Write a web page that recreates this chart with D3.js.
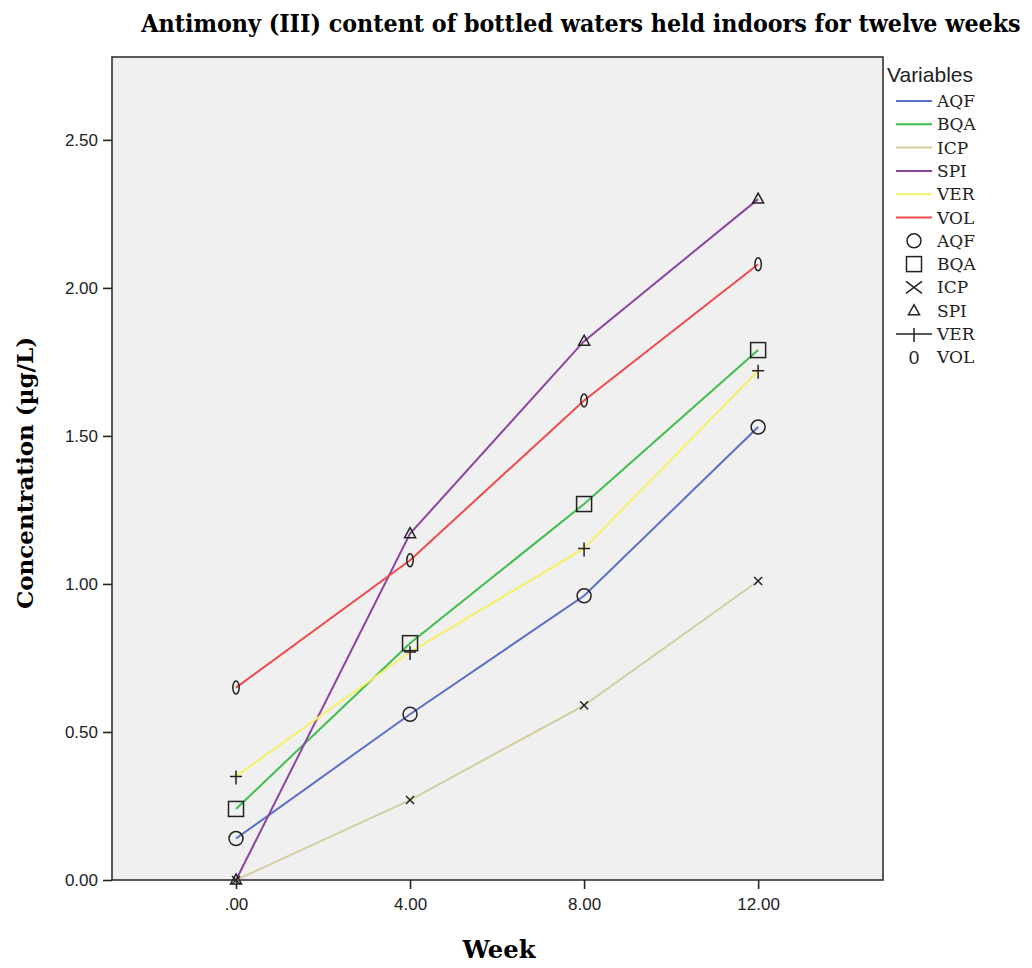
<!DOCTYPE html>
<html><head><meta charset="utf-8">
<script src="https://cdn.jsdelivr.net/npm/d3@7/dist/d3.min.js"></script>
<style>body{margin:0;background:#fff;} svg{display:block;}</style>
</head><body>
<svg id="c" width="1032" height="968"></svg>
<script>
const weeks = [0, 4, 8, 12];
const seriesNames = ["AQF", "BQA", "ICP", "SPI", "VER", "VOL"];
const AQF = [0.14, 0.56, 0.96, 1.53];
const BQA = [0.24, 0.80, 1.27, 1.79];
const ICP = [0.00, 0.27, 0.59, 1.01];
const SPI = [0.00, 1.17, 1.82, 2.30];
const VER = [0.35, 0.77, 1.12, 1.72];
const VOL = [0.65, 1.08, 1.62, 2.08];
const colors = ["#5b6fc6", "#3fbd4d", "#d2cf9e", "#8b45a0", "#f5f066", "#f04a4a"];
const markers = ["circle", "square", "x", "triangle", "plus", "zero"];
const yTicks = [0, 0.5, 1.0, 1.5, 2.0, 2.5];
const xTicks = [0, 4, 8, 12];

const values = {AQF, BQA, ICP, SPI, VER, VOL};
const svg = d3.select("#c");
const L = 112, R = 883, T = 57, B = 880;
const x = d3.scaleLinear().domain([-2.85, 14.87]).range([L, R]);
const y = d3.scaleLinear().domain([0, 2.78]).range([B, T]);
const serif = "DejaVu Serif, Liberation Serif, serif";
const sans = "Liberation Sans, Arial, sans-serif";

svg.append("rect").attr("x", L).attr("y", T).attr("width", R - L).attr("height", B - T)
  .attr("fill", "#f0f0f0").attr("stroke", "#333").attr("stroke-width", 1.6);

// axes
const yAxis = svg.append("g").attr("transform", `translate(${L},0)`)
  .call(d3.axisLeft(y).tickValues(yTicks).tickFormat(d3.format(".2f")).tickSize(9).tickSizeOuter(0));
const xAxis = svg.append("g").attr("transform", `translate(0,${B})`)
  .call(d3.axisBottom(x).tickValues(xTicks).tickFormat(d => d === 0 ? ".00" : d3.format(".2f")(d)).tickSize(9).tickSizeOuter(0));
[yAxis, xAxis].forEach(g => {
  g.select(".domain").remove();
  g.selectAll("line").attr("stroke", "#222").attr("stroke-width", 1.6);
  g.selectAll("text").attr("font-family", sans).attr("font-size", 17).attr("fill", "#222");
});
yAxis.selectAll("text").attr("x", -14);
xAxis.selectAll("text").attr("y", 18);

// lines
const line = d3.line().x((d, i) => x(weeks[i])).y(d => y(d));
seriesNames.forEach((s, k) => {
  svg.append("path").datum(values[s]).attr("d", line)
    .attr("fill", "none").attr("stroke", colors[k]).attr("stroke-width", 2);
});

function drawMarker(g, type, cx, cy, big) {
  const st = {stroke: "#222", fill: "none", "stroke-width": 1.5};
  const apply = sel => { Object.entries(st).forEach(([k, v]) => sel.attr(k, v)); return sel; };
  if (type === "circle") apply(g.append("circle").attr("cx", cx).attr("cy", cy).attr("r", 7));
  else if (type === "square") apply(g.append("rect").attr("x", cx - 7.5).attr("y", cy - 7.5).attr("width", 15).attr("height", 15));
  else if (type === "x") {
    const s = big ? 8 : 4;
    const sy = big ? 6 : 4;
    apply(g.append("path").attr("d", `M${cx - s},${cy - sy}L${cx + s},${cy + sy}M${cx - s},${cy + sy}L${cx + s},${cy - sy}`));
  } else if (type === "triangle") apply(g.append("path").attr("d", `M${cx},${cy - 6}L${cx + 5.5},${cy + 4}L${cx - 5.5},${cy + 4}Z`));
  else if (type === "plus") {
    const s = big ? 18 : 6;
    apply(g.append("path").attr("d", `M${cx - s},${cy}L${cx + s},${cy}M${cx},${cy - 6}L${cx},${cy + 8}`));
  } else if (type === "zero") apply(g.append("ellipse").attr("cx", cx).attr("cy", cy).attr("rx", 3.2).attr("ry", 6.5));
}

const mg = svg.append("g");
seriesNames.forEach((s, k) => {
  values[s].forEach((v, i) => drawMarker(mg, markers[k], x(weeks[i]), y(v), false));
});

// titles (condensed by horizontal scaling so the real box matches)
function condensed(txt, cx, cy, size, width, rotate) {
  const t = svg.append("text").attr("text-anchor", "middle")
    .attr("font-family", serif).attr("font-weight", "bold").attr("font-size", size).text(txt);
  const w = t.node().getComputedTextLength();
  const s = Math.min(1, width / w);
  t.attr("transform", `translate(${cx},${cy})${rotate ? " rotate(-90)" : ""} scale(${s},1)`);
  return t;
}
condensed("Antimony (III) content of bottled waters held indoors for twelve weeks", 581, 32, 24, 880, false);
condensed("Week", 499, 958, 25, 73, false);
condensed("Concentration (µg/L)", 33, 473, 23, 273, true);

// legend
const lg = svg.append("g");
lg.append("text").attr("x", 887).attr("y", 82).attr("font-family", sans)
  .attr("font-size", 21).attr("fill", "#222").text("Variables");
const rowY = i => 101 + i * 23.3;
seriesNames.forEach((s, k) => {
  const yy = rowY(k);
  lg.append("line").attr("x1", 896).attr("x2", 932).attr("y1", yy).attr("y2", yy)
    .attr("stroke", colors[k]).attr("stroke-width", 2);
  lg.append("text").attr("x", 937).attr("y", yy + 6).attr("font-family", serif)
    .attr("font-size", 17).attr("fill", "#222").text(s);
});
seriesNames.forEach((s, k) => {
  const yy = rowY(k + 6);
  if (markers[k] === "zero") {
    lg.append("text").attr("x", 914).attr("y", yy + 7).attr("text-anchor", "middle")
      .attr("font-family", sans).attr("font-size", 19).attr("fill", "#222").text("0");
  } else drawMarker(lg, markers[k], 914, yy, true);
  lg.append("text").attr("x", 937).attr("y", yy + 6).attr("font-family", serif)
    .attr("font-size", 17).attr("fill", "#222").text(s);
});
</script>
</body></html>
